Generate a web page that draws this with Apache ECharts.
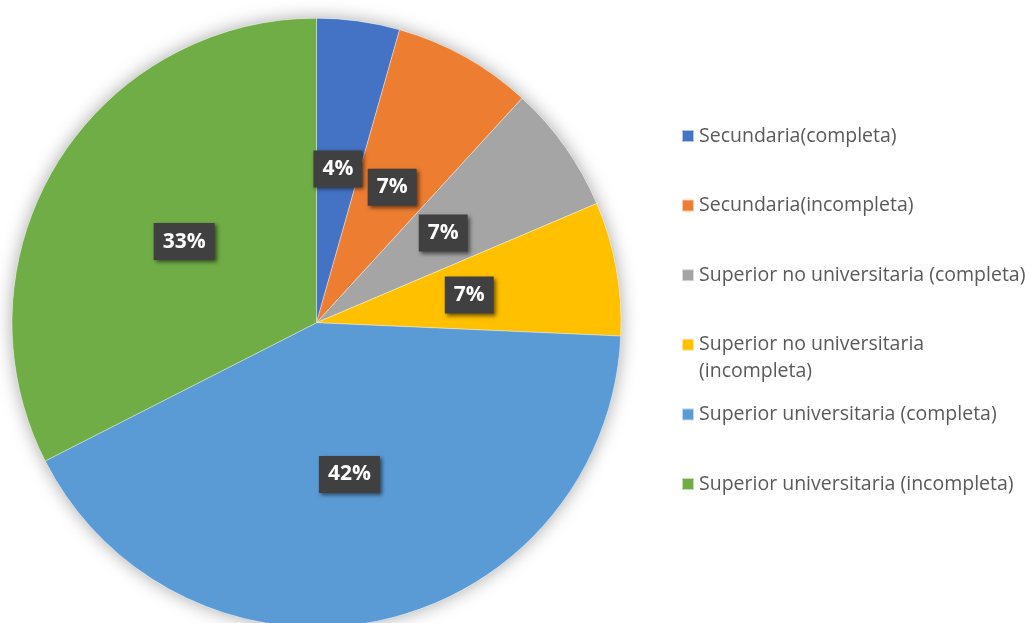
<!DOCTYPE html>
<html>
<head>
<meta charset="utf-8">
<script src="https://cdn.jsdelivr.net/npm/echarts@6/dist/echarts.min.js"></script>
<style>
html,body{margin:0;padding:0;background:#fff;}
#chart{width:1035px;height:623px;}
</style>
</head>
<body>
<div id="chart"></div>
<script>
// Data
const categories = [
  'Secundaria(completa)',
  'Secundaria(incompleta)',
  'Superior no universitaria (completa)',
  'Superior no universitaria (incompleta)',
  'Superior universitaria (completa)',
  'Superior universitaria (incompleta)'
];
const legendLabels = [
  'Secundaria(completa)',
  'Secundaria(incompleta)',
  'Superior no universitaria (completa)',
  'Superior no universitaria\n(incompleta)',
  'Superior universitaria (completa)',
  'Superior universitaria (incompleta)'
];
const values = [4.4, 7.4, 6.8, 7.1, 41.8, 32.5];
const colors = ['#4472C4', '#ED7D31', '#A5A5A5', '#FFC000', '#5B9BD5', '#70AD47'];

const chart = echarts.init(document.getElementById('chart'), null, {renderer: 'canvas'});

const center = [316.5, 322.7];
const radius = 304.5;

const LH = 27;
const legendStart = 136;
const legendStep = 69.6;
const legends = categories.map((name, i) => {
  const multi = legendLabels[i].indexOf('\n') >= 0;
  const c = legendStart + legendStep * i;
  return {
    orient: 'vertical',
    left: 681,
    top: multi ? c - 1.5 * LH : c - LH / 2,
    padding: 0,
    itemWidth: 12,
    itemHeight: 12,
    icon: 'rect',
    selectedMode: false,
    data: [name],
    // a leading empty line keeps the first text line level with the marker
    formatter: () => (multi ? '\n' : '') + legendLabels[i],
    textStyle: {
      fontFamily: 'Open Sans',
      fontSize: 19.5,
      color: '#595959',
      lineHeight: LH
    }
  };
});

const option = {
  animation: false,
  backgroundColor: '#ffffff',
  legend: legends,
  series: [
    {
      type: 'pie',
      name: 'bg',
      silent: true,
      center: center,
      radius: radius,
      z: 1,
      label: {show: false},
      labelLine: {show: false},
      itemStyle: {
        color: '#ffffff',
        shadowBlur: 18,
        shadowColor: 'rgba(0,0,0,0.35)'
      },
      data: [{name: '__bg__', value: 1}]
    },
    {
      type: 'pie',
      name: 'main',
      center: center,
      radius: radius,
      startAngle: 90,
      clockwise: true,
      z: 2,
      itemStyle: {
        borderColor: 'rgba(255,255,255,0.6)',
        borderWidth: 0.6
      },
      label: {
        show: true,
        position: 'inner',
        formatter: (p) => Math.round(p.percent) + '%',
        color: '#ffffff',
        fontFamily: 'Open Sans',
        fontWeight: 'bold',
        fontSize: 21,
        lineHeight: 21,
        backgroundColor: '#404040',
        padding: [8, 9, 8, 9],
        shadowColor: 'rgba(0,0,0,0.55)',
        shadowBlur: 4,
        shadowOffsetX: 2,
        shadowOffsetY: 2
      },
      labelLine: {show: false},
      emphasis: {disabled: true},
      data: categories.map((n, i) => ({
        name: n,
        value: values[i],
        itemStyle: {color: colors[i]}
      }))
    }
  ]
};
chart.setOption(option);
</script>
</body>
</html>
